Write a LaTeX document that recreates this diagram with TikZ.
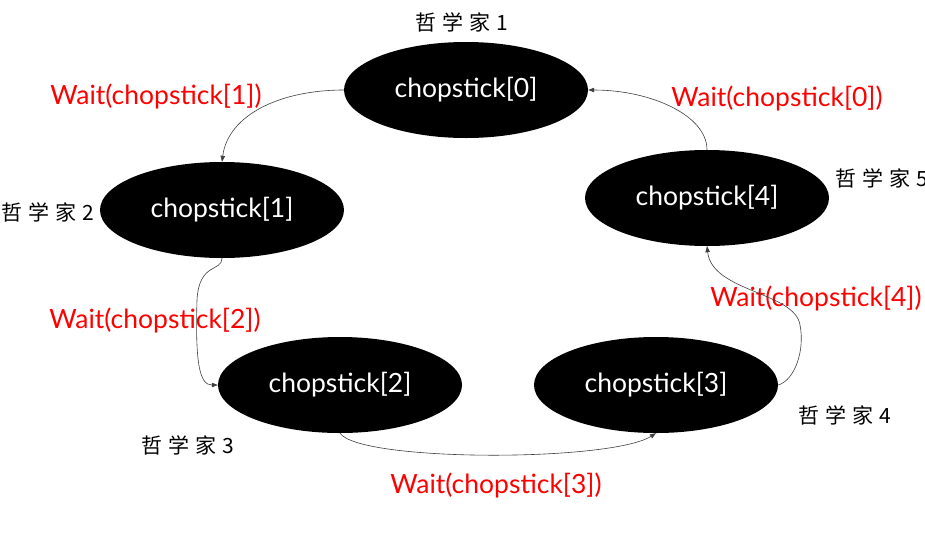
\documentclass[tikz,border=0pt]{standalone}
\usepackage{fontspec}
\setmainfont{Lato}
\newfontfamily\cjk{Noto Sans CJK SC}
\usetikzlibrary{shapes.geometric,arrows.meta}
\tikzset{
  chop/.style={ellipse, fill=black, draw=none, minimum width=244pt, minimum height=96pt, inner sep=0pt, text=white, font=\fontsize{26.5}{30}\selectfont},
  waitlbl/.style={text=red, inner sep=0pt, font=\fontsize{26.5}{30}\selectfont},
  phil/.style={inner sep=0pt, font=\cjk\fontsize{21}{24}\selectfont},
  link/.style={draw=black!75, line width=0.6pt, -{Triangle[length=6pt,width=4.5pt]}}
}
\newcommand{\zxj}[1]{哲\hspace{6pt}学\hspace{6pt}家\hspace{6pt}#1}
\begin{document}
\begin{tikzpicture}[x=1pt,y=-1pt]
\useasboundingbox (0,0) rectangle (925,533);
\fill[white] (0,0) rectangle (925,533);

\node[chop] (c0) at (466,90) {chopstick[0]};
\node[chop] (c1) at (222,210) {chopstick[1]};
\node[chop] (c4) at (707,198) {chopstick[4]};
\node[chop] (c2) at (340,385) {chopstick[2]};
\node[chop] (c3) at (656,385) {chopstick[3]};

\node[phil] (p1) at (462,22) {\zxj{1}};
\node[phil] (p2) at (48,212) {\zxj{2}};
\node[phil] (p3) at (188,445) {\zxj{3}};
\node[phil] (p4) at (845,415) {\zxj{4}};
\node[phil, anchor=west] (p5) at (835,178) {\zxj{5}};

\node[waitlbl] (w1) at (156,96) {Wait(chopstick[1])};
\node[waitlbl] (w0) at (777,98) {Wait(chopstick[0])};
\node[waitlbl] (w2) at (155,320) {Wait(chopstick[2])};
\node[waitlbl] (w4) at (816,298) {Wait(chopstick[4])};
\node[waitlbl] (w3) at (496,485) {Wait(chopstick[3])};

\draw[link] (c0.west) .. controls (280,90) and (228,115) .. (c1.north);
\draw[link] (c1.south) .. controls (222,272) and (199,262) .. (197,300)
  .. controls (195,365) and (200,385) .. (c2.west);
\draw[link] (c2.south) .. controls (360,462) and (610,462) .. (c3.south);
\draw[link] (c3.east) .. controls (795,380) and (805,350) .. (800,325)
  .. controls (795,292) and (712,292) .. (c4.south);
\draw[link] (c4.north) .. controls (707,115) and (650,90) .. (c0.east);
\end{tikzpicture}
\end{document}
